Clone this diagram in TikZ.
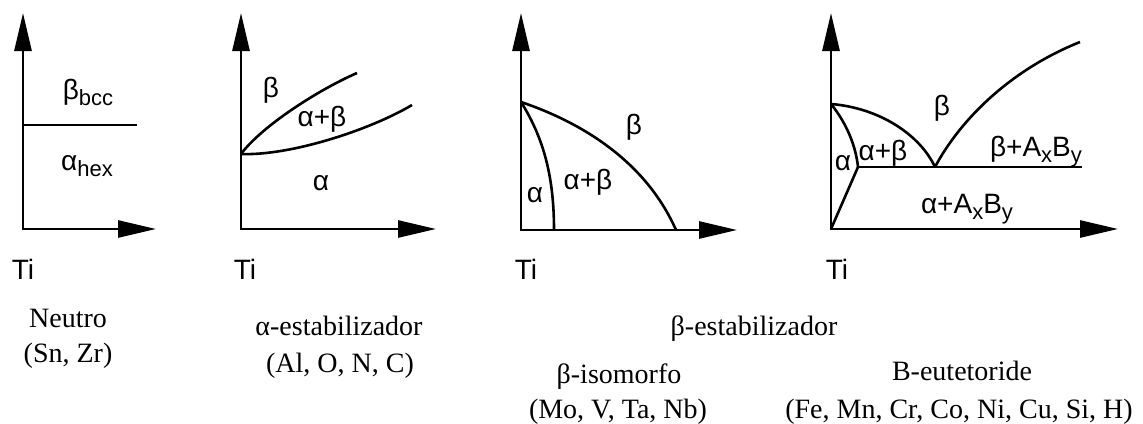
\documentclass[tikz,border=0pt]{standalone}
\usepackage{fontspec}
\setmainfont{Liberation Serif}
\setsansfont{Liberation Sans}
\usetikzlibrary{arrows.meta}
\newcommand{\sbs}[1]{\raisebox{-6pt}{\fontsize{22}{26}\selectfont #1}}

\tikzset{
  axis/.style={line width=2.8pt, {Triangle[length=38pt,width=17pt]}-{Triangle[length=38pt,width=17pt]}},
  phase/.style={line width=2.6pt},
  lbl/.style={font=\sffamily\fontsize{28}{32}\selectfont, inner sep=0pt},
  legend/.style={font=\fontsize{28}{34}\selectfont, inner sep=0pt, anchor=base},
}

\begin{document}
\begin{tikzpicture}[x=1pt,y=-1pt]
    \useasboundingbox (0,0) rectangle (1143,423);

    % neutro
    \coordinate (y1) at (23,13);
    \coordinate (o1) at (23,229);
    \coordinate (x1) at (156,229);
    \coordinate (n1) at (23,125);
    \coordinate (n2) at (137,125);
    \draw[axis] (y1) -- (o1) -- (x1);
    \draw[phase] (n1) -- (n2);
    \node[lbl] (bcc) at (88,92) {β\sbs{bcc}};
    \node[lbl] (hex) at (87,166) {α\sbs{hex}};
    \node[lbl] (ti1) at (23,269) {Ti};

    % alfa-estabilizador
    \coordinate (y2) at (241,13);
    \coordinate (o2) at (241,229);
    \coordinate (x2) at (436,229);
    \coordinate (a2) at (241,154);
    \draw[axis] (y2) -- (o2) -- (x2);
    \draw[phase] (a2) .. controls (262,126) and (318,90) .. (357,73);
    \draw[phase] (a2) .. controls (290,156) and (370,130) .. (412,105);
    \node[lbl] (b2) at (271,90) {β};
    \node[lbl] (ab2) at (322,119) {α+β};
    \node[lbl] (al2) at (321,183) {α};
    \node[lbl] (ti2) at (245,269) {Ti};

    % beta-isomorfo
    \coordinate (y3) at (521,13);
    \coordinate (o3) at (521,230);
    \coordinate (x3) at (737,230);
    \coordinate (a3) at (521,102);
    \coordinate (p3) at (554,230);
    \coordinate (q3) at (676,230);
    \draw[axis] (y3) -- (o3) -- (x3);
    \draw[phase] (a3) .. controls (580,122) and (645,160) .. (q3);
    \draw[phase] (a3) .. controls (545,140) and (554,180) .. (p3);
    \node[lbl] (al3) at (535,195) {α};
    \node[lbl] (ab3) at (588,182) {α+β};
    \node[lbl] (b3) at (634,127) {β};
    \node[lbl] (ti3) at (526,269) {Ti};

    % beta-eutetoide
    \coordinate (y4) at (831,13);
    \coordinate (o4) at (831,229);
    \coordinate (x4) at (1118,229);
    \coordinate (a4) at (831,104);
    \coordinate (t4) at (858,167);
    \coordinate (e4) at (935,167);
    \coordinate (r4) at (1082,167);
    \coordinate (s4) at (1080,42);
    \draw[axis] (y4) -- (o4) -- (x4);
    \draw[phase] (a4) .. controls (880,108) and (920,135) .. (e4);
    \draw[phase] (e4) .. controls (960,120) and (1010,70) .. (s4);
    \draw[phase] (a4) .. controls (848,125) and (856,148) .. (t4);
    \draw[phase] (t4) -- (r4);
    \draw[phase] (t4) -- (o4);
    \node[lbl] (al4) at (843,163) {α};
    \node[lbl] (ab4) at (883,153) {α+β};
    \node[lbl] (b4) at (942,108) {β};
    \node[lbl] (bab) at (1036,152) {β+A\sbs{x}B\sbs{y}};
    \node[lbl] (aab) at (967,209) {α+A\sbs{x}B\sbs{y}};
    \node[lbl] (ti4) at (837,269) {Ti};

    % leyendas
    \node[legend] (neu) at (68,327) {Neutro};
    \node[legend] (neuel) at (68,362) {(Sn, Zr)};
    \node[legend] (aest) at (339,335) {α-estabilizador};
    \node[legend] (aestel) at (340,372) {(Al, O, N, C)};
    \node[legend] (best) at (754,335) {β-estabilizador};
    \node[legend] (biso) at (619,383) {β-isomorfo};
    \node[legend] (bisoel) at (618,418) {(Mo, V, Ta, Nb)};
    \node[legend] (beut) at (962,380) {B-eutetoride};
    \node[legend] (beutel) at (959,418) {(Fe, Mn, Cr, Co, Ni, Cu, Si, H)};
\end{tikzpicture}
\end{document}
